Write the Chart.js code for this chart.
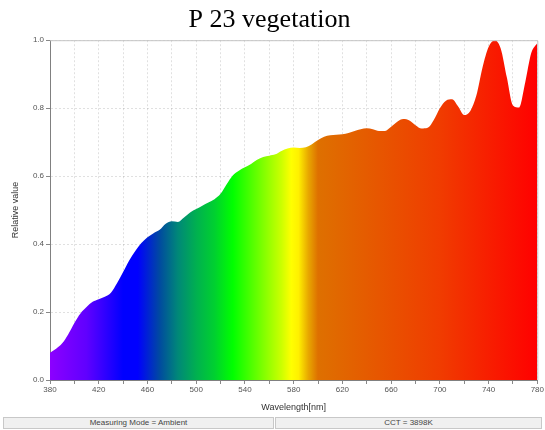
<!DOCTYPE html>
<html>
<head>
<meta charset="utf-8">
<script src="https://cdn.jsdelivr.net/npm/chart.js@4.4.1/dist/chart.umd.min.js"></script>
<style>
    body { margin: 0; background: #fff; }
    #wrap { position: relative; width: 545px; height: 430px; }
    .status {
        position: absolute; top: 417px; height: 10px; line-height: 10px;
        background: #f0f0f0; border: 1px solid #c8c8c8;
        font: 8px "Liberation Sans", Arial, sans-serif; color: #444; text-align: center;
    }
</style>
</head>
<body>
<div id="wrap">
    <canvas id="spectrum" width="545" height="430"></canvas>
    <div class="status" style="left:3px; width:269px;">Measuring Mode = Ambient</div>
    <div class="status" style="left:275px; width:265px;">CCT = 3898K</div>
</div>
<script>
// длины волн, нм
const wavelengths = [380, 385, 390, 395, 400, 405, 410, 415, 420, 425, 430, 435, 440, 445, 450, 455,
    460, 465, 470, 475, 480, 485, 490, 495, 500, 505, 510, 515, 520, 525, 530, 535, 540, 545, 550,
    555, 560, 565, 570, 575, 580, 585, 590, 595, 600, 605, 610, 615, 620, 625, 630, 635, 640, 645,
    650, 655, 660, 665, 670, 675, 680, 685, 690, 695, 700, 705, 710, 715, 720, 725, 730, 735, 740,
    745, 750, 755, 760, 765, 770, 775, 780];

// относительная интенсивность
const relValues = [0.080, 0.092, 0.108, 0.135, 0.168, 0.196, 0.215, 0.230, 0.238, 0.245, 0.257,
    0.285, 0.318, 0.352, 0.380, 0.403, 0.420, 0.432, 0.442, 0.460, 0.467, 0.465, 0.478, 0.493,
    0.503, 0.513, 0.522, 0.532, 0.548, 0.576, 0.602, 0.616, 0.626, 0.636, 0.648, 0.656, 0.660,
    0.664, 0.674, 0.681, 0.684, 0.683, 0.685, 0.694, 0.706, 0.716, 0.720, 0.722, 0.723, 0.727,
    0.733, 0.738, 0.741, 0.738, 0.733, 0.733, 0.745, 0.760, 0.768, 0.764, 0.750, 0.740, 0.742,
    0.765, 0.800, 0.822, 0.826, 0.805, 0.780, 0.792, 0.838, 0.920, 0.980, 1.000, 0.975, 0.890,
    0.808, 0.802, 0.875, 0.962, 0.992];

const xTickLabels = [380, 420, 460, 500, 540, 580, 620, 660, 700, 740, 780];
const yTickLabels = [0.0, 0.2, 0.4, 0.6, 0.8, 1.0];

// цвета спектра для заливки (стоп по длине волны)
const spectrumStops = [
    [380, '#8c00ff'], [410, '#6000ff'], [440, '#0000ff'], [452, '#0000ff'], [470, '#004aa0'],
    [485, '#008878'], [500, '#00b050'], [515, '#00d030'], [530, '#00ff00'], [555, '#80ff00'],
    [570, '#ccff00'], [578, '#ffff00'], [584, '#fff000'], [592, '#e8a800'], [600, '#de7000'],
    [700, '#f03c00'], [780, '#ff0000']
];

const tickFont = {family: '"Liberation Sans", Arial, sans-serif', size: 8};

function spectrumFill(context) {
    const chart = context.chart;
    const area = chart.chartArea;
    if (!area) return 'transparent';
    const x = chart.scales.x;
    const x0 = x.getPixelForValue(380);
    const x1 = x.getPixelForValue(780);
    const g = chart.ctx.createLinearGradient(x0, 0, x1, 0);
    spectrumStops.forEach(([w, c]) => g.addColorStop((w - 380) / 400, c));
    return g;
}

// рамка сверху и справа
const frame = {
    id: 'frame',
    afterDatasetsDraw(chart) {
        const {ctx, chartArea: a} = chart;
        ctx.save();
        ctx.strokeStyle = '#c4c4c4';
        ctx.lineWidth = 1;
        ctx.beginPath();
        ctx.moveTo(a.left, a.top + 0.5);
        ctx.lineTo(a.right + 0.5, a.top + 0.5);
        ctx.lineTo(a.right + 0.5, a.bottom);
        ctx.stroke();
        ctx.restore();
    }
};

new Chart(document.getElementById('spectrum'), {
    type: 'line',
    data: {
        datasets: [{
            data: wavelengths.map((w, i) => ({x: w, y: relValues[i]})),
            fill: 'origin',
            backgroundColor: spectrumFill,
            borderWidth: 0,
            pointRadius: 0,
            cubicInterpolationMode: 'monotone'
        }]
    },
    options: {
        responsive: false,
        animation: false,
        layout: {padding: {left: 0, right: 6, top: 0, bottom: 12}},
        plugins: {
            legend: {display: false},
            tooltip: {enabled: false},
            title: {
                display: true,
                text: 'P 23 vegetation',
                color: '#000',
                font: {family: '"Liberation Serif", "Times New Roman", serif', size: 26, weight: 'normal'},
                padding: {top: 5, bottom: 4}
            }
        },
        scales: {
            x: {
                type: 'linear',
                min: 380,
                max: 780,
                afterFit: (s) => { s.height = 38; },
                ticks: {
                    stepSize: 20,
                    autoSkip: false,
                    maxRotation: 0,
                    padding: 1,
                    color: '#555',
                    font: tickFont,
                    callback: (v) => xTickLabels.includes(v) ? String(v) : ''
                },
                grid: {color: 'rgba(0,0,0,0.12)', tickColor: '#888', tickLength: 4},
                border: {color: '#808080', dash: [2, 2]},
                title: {
                    display: true,
                    text: 'Wavelength[nm]',
                    color: '#333',
                    font: {family: '"Liberation Sans", Arial, sans-serif', size: 9},
                    padding: {top: 2, bottom: 5}
                }
            },
            y: {
                min: 0,
                max: 1,
                afterFit: (s) => { s.width = 50; },
                ticks: {
                    stepSize: 0.2,
                    padding: 2,
                    color: '#555',
                    font: tickFont,
                    callback: (v) => yTickLabels.some(t => Math.abs(t - v) < 1e-6) ? v.toFixed(1) : ''
                },
                grid: {color: 'rgba(0,0,0,0.12)', tickColor: '#888', tickLength: 4},
                border: {color: '#808080', dash: [2, 2]},
                title: {
                    display: true,
                    text: 'Relative value',
                    color: '#333',
                    font: {family: '"Liberation Sans", Arial, sans-serif', size: 9},
                    padding: {top: 10, bottom: 0}
                }
            }
        }
    },
    plugins: [frame]
});
</script>
</body>
</html>
